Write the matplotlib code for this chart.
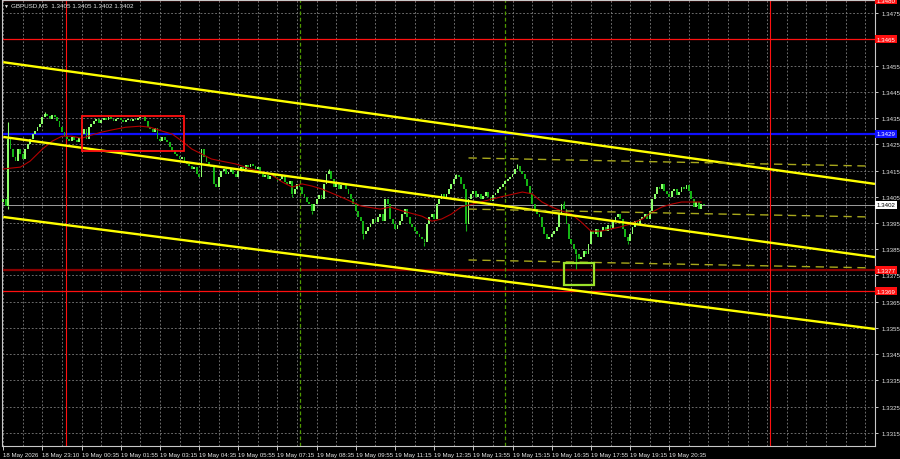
import matplotlib
matplotlib.use('Agg')
import matplotlib.pyplot as plt
from matplotlib.patches import Rectangle

plt.rcParams['font.family'] = ['Liberation Sans', 'DejaVu Sans']

# ---------------- data ----------------
first_open = 1.34030
closes = [
    1.34041, 1.34015, 1.34270, 1.34232, 1.34201, 1.34186, 1.34232, 1.34213, 1.34194, 1.34232,
    1.34251, 1.34270, 1.34289, 1.34300, 1.34315, 1.34327, 1.34354, 1.34365, 1.34357, 1.34346,
    1.34361, 1.34354, 1.34338, 1.34315, 1.34296, 1.34281, 1.34270, 1.34262, 1.34277, 1.34266,
    1.34258, 1.34273, 1.34289, 1.34308, 1.34270, 1.34315, 1.34327, 1.34338, 1.34346, 1.34331,
    1.34342, 1.34350, 1.34342, 1.34354, 1.34346, 1.34338, 1.34346, 1.34350, 1.34342, 1.34334,
    1.34342, 1.34346, 1.34338, 1.34346, 1.34342, 1.34350, 1.34354, 1.34357, 1.34338, 1.34315,
    1.34308, 1.34296, 1.34311, 1.34270, 1.34262, 1.34277, 1.34266, 1.34258, 1.34239, 1.34224,
    1.34213, 1.34205, 1.34194, 1.34201, 1.34186, 1.34175, 1.34167, 1.34156, 1.34163, 1.34137,
    1.34125, 1.34232, 1.34201, 1.34182, 1.34167, 1.34163, 1.34099, 1.34087, 1.34125, 1.34148,
    1.34156, 1.34137, 1.34144, 1.34156, 1.34137, 1.34125, 1.34148, 1.34163, 1.34156, 1.34171,
    1.34163, 1.34175, 1.34167, 1.34156, 1.34163, 1.34137, 1.34125, 1.34133, 1.34118, 1.34129,
    1.34137, 1.34125, 1.34110, 1.34118, 1.34129, 1.34106, 1.34099, 1.34110, 1.34061, 1.34080,
    1.34099, 1.34087, 1.34061, 1.34049, 1.34030, 1.34022, 1.33996, 1.34022, 1.34041, 1.34057,
    1.34041, 1.34099, 1.34137, 1.34148, 1.34118, 1.34087, 1.34102, 1.34080, 1.34095, 1.34099,
    1.34080, 1.34061, 1.34041, 1.34022, 1.33996, 1.33973, 1.33957, 1.33908, 1.33919, 1.33935,
    1.33946, 1.33965, 1.33954, 1.33973, 1.33984, 1.33957, 1.34041, 1.34022, 1.33965, 1.33946,
    1.33927, 1.33942, 1.33957, 1.33984, 1.34003, 1.33973, 1.33946, 1.33935, 1.33919, 1.33908,
    1.33896, 1.33889, 1.33877, 1.33946, 1.33973, 1.33984, 1.33965, 1.34022, 1.34041, 1.34061,
    1.34049, 1.34061, 1.34080, 1.34099, 1.34118, 1.34133, 1.34125, 1.34099, 1.34080, 1.33946,
    1.34041, 1.34061, 1.34072, 1.34049, 1.34061, 1.34041, 1.34053, 1.34068, 1.34049, 1.34034,
    1.34057, 1.34064, 1.34080, 1.34087, 1.34099, 1.34110, 1.34118, 1.34125, 1.34137, 1.34156,
    1.34167, 1.34148, 1.34137, 1.34118, 1.34091, 1.34061, 1.34022, 1.34003, 1.33984, 1.33973,
    1.33935, 1.33908, 1.33889, 1.33896, 1.33908, 1.33919, 1.33935, 1.33984, 1.34022, 1.34003,
    1.33946, 1.33889, 1.33870, 1.33851, 1.33832, 1.33813, 1.33820, 1.33843, 1.33832, 1.33870,
    1.33919, 1.33908, 1.33927, 1.33896, 1.33919, 1.33935, 1.33919, 1.33942, 1.33927, 1.33957,
    1.33973, 1.33984, 1.33965, 1.33927, 1.33896, 1.33881, 1.33908, 1.33935, 1.33957, 1.33946,
    1.33965, 1.33973, 1.33984, 1.33965, 1.33996, 1.34041, 1.34061, 1.34087, 1.34080, 1.34099,
    1.34072, 1.34061, 1.34049, 1.34072, 1.34080, 1.34057, 1.34068, 1.34087, 1.34080, 1.34095,
    1.34072, 1.34041, 1.34011, 1.34030, 1.34003, 1.34022, 1.34019,
]
wick_high = {2: 1.34334, 17: 1.34373, 133: 1.34156, 185: 1.34137, 210: 1.34175, 229: 1.34034}
wick_low = {2: 1.34003, 118: 1.34049, 126: 1.33984, 147: 1.33889, 172: 1.33862,
            189: 1.33919, 234: 1.33775, 255: 1.33870}

ma_bars = [0, 7, 11, 16, 20, 24, 28, 32, 36, 40, 44, 50, 56, 60, 65, 69, 73, 77, 81, 85, 89,
           95, 101, 109, 114, 118, 122, 126, 130, 138, 146, 154, 158, 163, 171, 175, 179, 183,
           187, 195, 203, 212, 216, 220, 224, 228, 232, 236, 240, 244, 248, 252, 256, 261, 265,
           269, 273, 277, 281, 285]
ma_vals = [1.34156, 1.34163, 1.34186, 1.34232, 1.34262, 1.34281, 1.34281, 1.34273, 1.34285,
           1.34296, 1.34304, 1.34315, 1.34319, 1.34315, 1.34300, 1.34289, 1.34262, 1.34232,
           1.34213, 1.34194, 1.34186, 1.34175, 1.34156, 1.34137, 1.34106, 1.34087, 1.34099,
           1.34091, 1.34080, 1.34049, 1.34015, 1.34003, 1.34011, 1.33996, 1.33976, 1.33957,
           1.33965, 1.33984, 1.34011, 1.34030, 1.34049, 1.34068, 1.34061, 1.34030, 1.34011,
           1.33996, 1.33984, 1.33954, 1.33919, 1.33919, 1.33927, 1.33935, 1.33946, 1.33965,
           1.33992, 1.34011, 1.34022, 1.34030, 1.34030, 1.34030]

time_labels = ["18 May 2026", "18 May 23:10", "19 May 00:35", "19 May 01:55", "19 May 03:15",
               "19 May 04:35", "19 May 05:55", "19 May 07:15", "19 May 08:35", "19 May 09:55",
               "19 May 11:15", "19 May 12:35", "19 May 13:55", "19 May 15:15", "19 May 16:35",
               "19 May 17:55", "19 May 19:15", "19 May 20:35"]
label_bars = [0, 16, 32, 48, 64, 80, 96, 112, 128, 144, 160, 176, 192, 208, 224, 240, 256, 272]

price_ticks = [1.3315, 1.3325, 1.3335, 1.3345, 1.3355, 1.3365, 1.3375, 1.3385, 1.3395,
               1.3405, 1.3415, 1.3425, 1.3435, 1.3445, 1.3455, 1.3465, 1.3475]
price_tick_labels = ["1.3315", "1.3325", "1.3335", "1.3345", "1.3355", "1.3365", "1.3375",
                     "1.3385", "1.3395", "1.3405", "1.3415", "1.3425", "1.3435", "1.3445",
                     "1.3455", "", "1.3475"]

red_levels = [1.3480, 1.3465, 1.3369]
maroon_level = 1.3377
blue_level = 1.3429
last_price = 1.3402

channel_upper = [(0, 1.34563), (356, 1.34099)]
channel_mid = [(0, 1.34278), (356, 1.33820)]
channel_lower = [(0, 1.33973), (356, 1.33546)]
dashed_upper = [(190, 1.34198), (354, 1.34167)]
dashed_mid = [(190, 1.34003), (354, 1.33973)]
dashed_lower = [(190, 1.33809), (354, 1.33779)]

red_box = (32, 74, 1.34224, 1.34358)
green_box = (229, 241.3, 1.33714, 1.33798)

day_separators = [25.8, 313]
session_lines = [121, 205]

title = "GBPUSD,M5  1.3405 1.3405 1.3402 1.3402"

# ---------------- drawing ----------------
W, H = 900, 460
fig = plt.figure(figsize=(9, 4.6), dpi=100, facecolor='black')
ax = fig.add_axes([2 / W, 13 / H, 873 / W, 446 / H])
ax.set_facecolor('black')
ax.set_xlim(-0.5, 356)
ax.set_ylim(1.33100, 1.34800)

grid_kw = dict(color='#7c7c7c', lw=0.6, ls=(0, (2.2, 2.2)), zorder=0)
for k in range(0, 357, 8):
    ax.axvline(k, **grid_kw)
for p in price_ticks:
    ax.axhline(p, **grid_kw)

for p in red_levels:
    ax.axhline(p, color='#ff1010', lw=0.9, zorder=1)
ax.axhline(maroon_level, color='#8a0000', lw=1.6, zorder=1)
ax.axhline(blue_level, color='#1010ff', lw=1.6, zorder=1)
ax.axhline(last_price, color='#b8b8b8', lw=0.6, zorder=1)

for b in day_separators:
    ax.axvline(b, color='#ff1010', lw=0.8, zorder=1)
for b in session_lines:
    ax.axvline(b, color='#4f9a00', lw=0.9, ls=(0, (3, 2)), zorder=1)

# candles
opens = [first_open] + closes[:-1]
idx = list(range(len(closes)))
bull_c, bear_c = '#8cff6a', '#14b414'
cols = [bull_c if c >= o else bear_c for o, c in zip(opens, closes)]
bottoms = [min(o, c) for o, c in zip(opens, closes)]
heights = [max(abs(c - o), 0.00004) for o, c in zip(opens, closes)]
ax.bar(idx, heights, bottom=bottoms, width=0.75, color=cols, linewidth=0, zorder=3)
for i, hp in wick_high.items():
    ax.vlines(i, max(opens[i], closes[i]), hp, color=cols[i], lw=0.8, zorder=3)
for i, lp in wick_low.items():
    ax.vlines(i, lp, min(opens[i], closes[i]), color=cols[i], lw=0.8, zorder=3)

ax.plot(ma_bars, ma_vals, color='#b40000', lw=0.8, zorder=4)

for ln in (channel_upper, channel_mid, channel_lower):
    ax.plot([ln[0][0], ln[1][0]], [ln[0][1], ln[1][1]], color='#ffff00', lw=1.7, zorder=5,
            solid_capstyle='butt')
for ln in (dashed_upper, dashed_mid, dashed_lower):
    ax.plot([ln[0][0], ln[1][0]], [ln[0][1], ln[1][1]], color='#a8a81c', lw=1.0,
            ls=(0, (6, 4)), zorder=5)

x0, x1, y0, y1 = red_box
ax.add_patch(Rectangle((x0, y0), x1 - x0, y1 - y0, fill=False, ec='#ff1010', lw=1.3, zorder=6))
x0, x1, y0, y1 = green_box
ax.add_patch(Rectangle((x0, y0), x1 - x0, y1 - y0, fill=False, ec='#9be22a', lw=1.6, zorder=6))

for s in ax.spines.values():
    s.set_color('#c8c8c8')
    s.set_linewidth(0.8)
ax.yaxis.tick_right()
ax.set_yticks(price_ticks)
ax.set_yticklabels(price_tick_labels)
ax.tick_params(axis='y', colors='#e6e6e6', labelsize=4.4, length=2.5, width=0.6, pad=2)
ax.set_xticks(label_bars)
ax.set_xticklabels(time_labels)
ax.tick_params(axis='x', colors='#e6e6e6', labelsize=4.4, length=3, width=0.6, pad=1.5)
for lb in ax.get_xticklabels():
    lb.set_ha('left')

tag_tr = ax.get_yaxis_transform()
def tag(p, bg, fg):
    ax.text(1.002, p, f"{p:.4f}", transform=tag_tr, fontsize=4.4, color=fg, va='center',
            ha='left', zorder=10, clip_on=False,
            bbox=dict(boxstyle='square,pad=0.25', fc=bg, ec=bg, lw=0))
for p in red_levels:
    tag(p, '#ff1010', '#ffffff')
tag(maroon_level, '#ff1010', '#ffffff')
tag(blue_level, '#1010ff', '#ffffff')
tag(last_price, '#ffffff', '#000000')

fig.text(4 / W, 1 - 6 / H, "\u25bc", color='#e6e6e6', fontsize=3.6, va='center', ha='left')
fig.text(11 / W, 1 - 6 / H, title, color='#e6e6e6', fontsize=4.5, va='center', ha='left')

fig.savefig('out.png', dpi=100, facecolor='black')
